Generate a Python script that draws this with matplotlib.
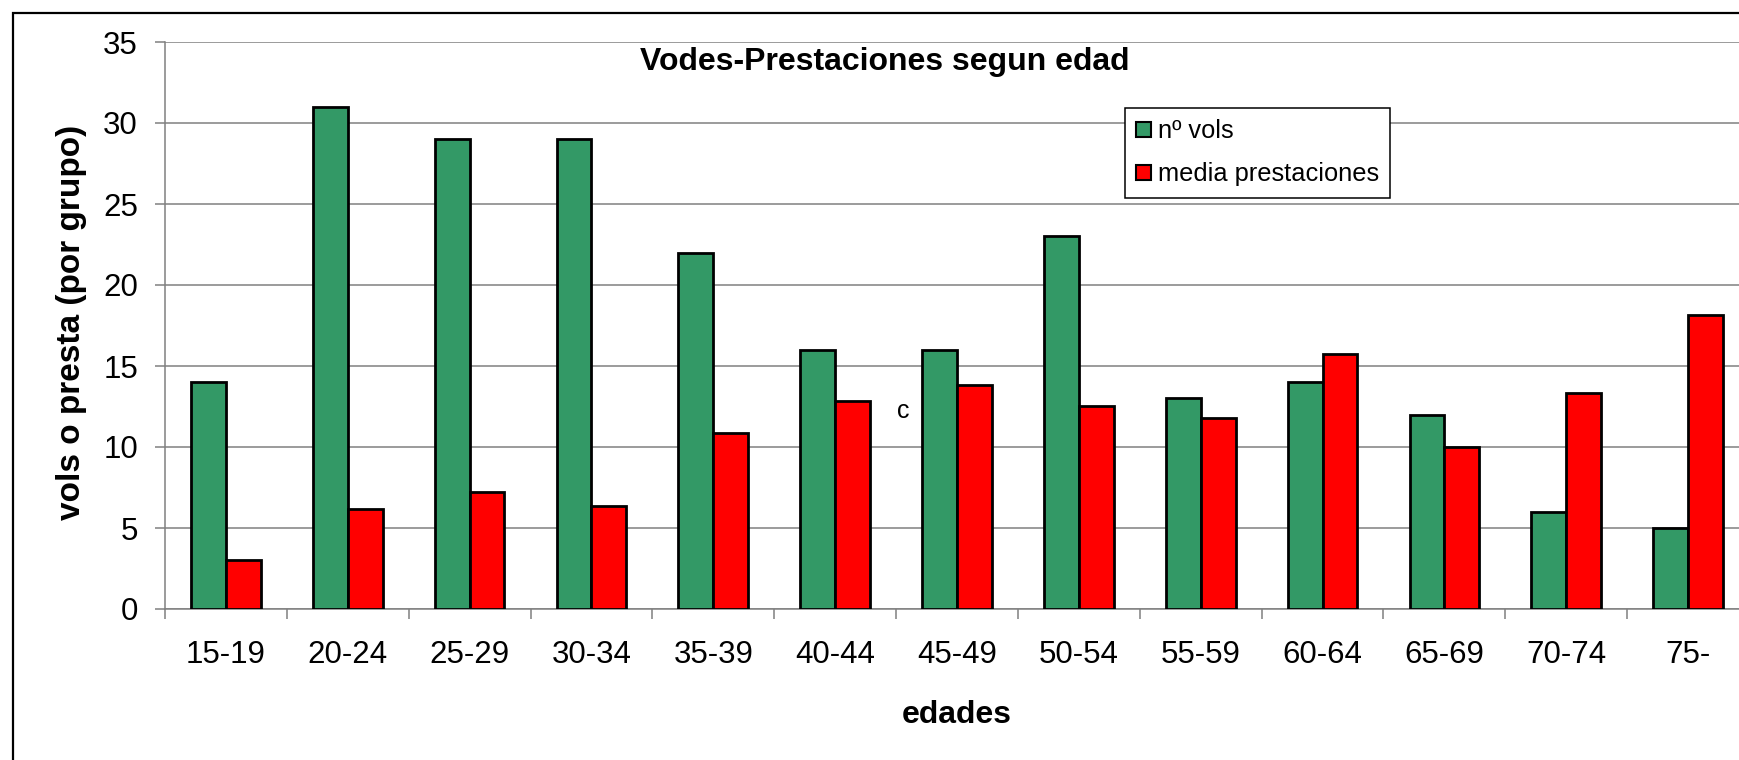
import numpy as np
import matplotlib
matplotlib.use("Agg")
import matplotlib.pyplot as plt
from matplotlib.patches import Rectangle

# data
edades = ["15-19", "20-24", "25-29", "30-34", "35-39", "40-44", "45-49",
          "50-54", "55-59", "60-64", "65-69", "70-74", "75-"]
n_vols = [14, 31, 29, 29, 22, 16, 16, 23, 13, 14, 12, 6, 5]
media_prestaciones = [3.0, 6.2, 7.25, 6.33, 10.86, 12.81, 13.85, 12.54,
                      11.78, 15.76, 10.0, 13.35, 18.17]

plt.rcParams['font.family'] = ['Liberation Sans', 'DejaVu Sans']

W, H = 1739, 760
fig = plt.figure(figsize=(W / 100, H / 100), dpi=100)

# axes box in pixel coords: left 165, right 1749 (past the edge), y 42..609
ax = fig.add_axes([165 / W, (H - 609) / H, (1749 - 165) / W, (609 - 42) / H])

x = np.arange(len(edades))
bw = 0.2857
grey = '#808080'

ax.bar(x - bw / 2, n_vols, bw, color='#339966', edgecolor='black',
       linewidth=2, label='nº vols', zorder=3)
ax.bar(x + bw / 2, media_prestaciones, bw, color='#ff0000', edgecolor='black',
       linewidth=2, label='media prestaciones', zorder=3)

ax.set_xlim(-0.5, len(edades) - 0.5)
ax.set_ylim(0, 35)
ax.set_yticks(np.arange(0, 36, 5))
ax.yaxis.grid(True, color=grey, linewidth=1.1, zorder=0)
ax.set_axisbelow(True)

for s in ['top', 'right']:
    ax.spines[s].set_visible(False)
for s in ['left', 'bottom']:
    ax.spines[s].set_color(grey)
    ax.spines[s].set_linewidth(1.1)

ax.tick_params(axis='y', direction='out', length=7.5, width=1.1, color=grey,
               labelsize=22.5, pad=12)
ax.set_xticks(x)
ax.set_xticklabels(edades)
ax.set_xticks(np.arange(-0.5, len(edades)), minor=True)
ax.tick_params(axis='x', which='major', length=0, labelsize=22.5, pad=22)
ax.tick_params(axis='x', which='minor', direction='out', length=7.5,
               width=1.1, color=grey)

fig.text(957 / W, 1 - 715 / H, 'edades', fontsize=23, fontweight='bold',
         ha='center', va='center')
fig.text(72 / W, 1 - 322 / H, 'vols o presta (por grupo)', fontsize=24,
         fontweight='bold', rotation=90, ha='center', va='center')
fig.text(885 / W, 1 - 62 / H, 'Vodes-Prestaciones segun edad', fontsize=23,
         fontweight='bold', ha='center', va='center')
fig.text(903 / W, 1 - 411 / H, 'c', fontsize=18, ha='center', va='center')

leg = ax.legend(loc='upper left', bbox_to_anchor=(1125 / W, 1 - 108 / H),
                bbox_transform=fig.transFigure, fontsize=18.3,
                frameon=True, fancybox=False, framealpha=1,
                edgecolor='black', borderpad=0.45, labelspacing=0.75,
                handlelength=0.58, handleheight=0.58, handletextpad=0.25,
                borderaxespad=0)
leg.get_frame().set_linewidth(1.1)
for h in leg.legend_handles:
    h.set_linewidth(1.5)

# outer chart frame (cut off at the right and bottom)
fig.patches.append(Rectangle((13 / W, -0.1), 1.2, 1.1 - 13 / H,
                             transform=fig.transFigure, fill=False,
                             edgecolor='black', linewidth=1.6))

fig.savefig('out.png', dpi=100)
